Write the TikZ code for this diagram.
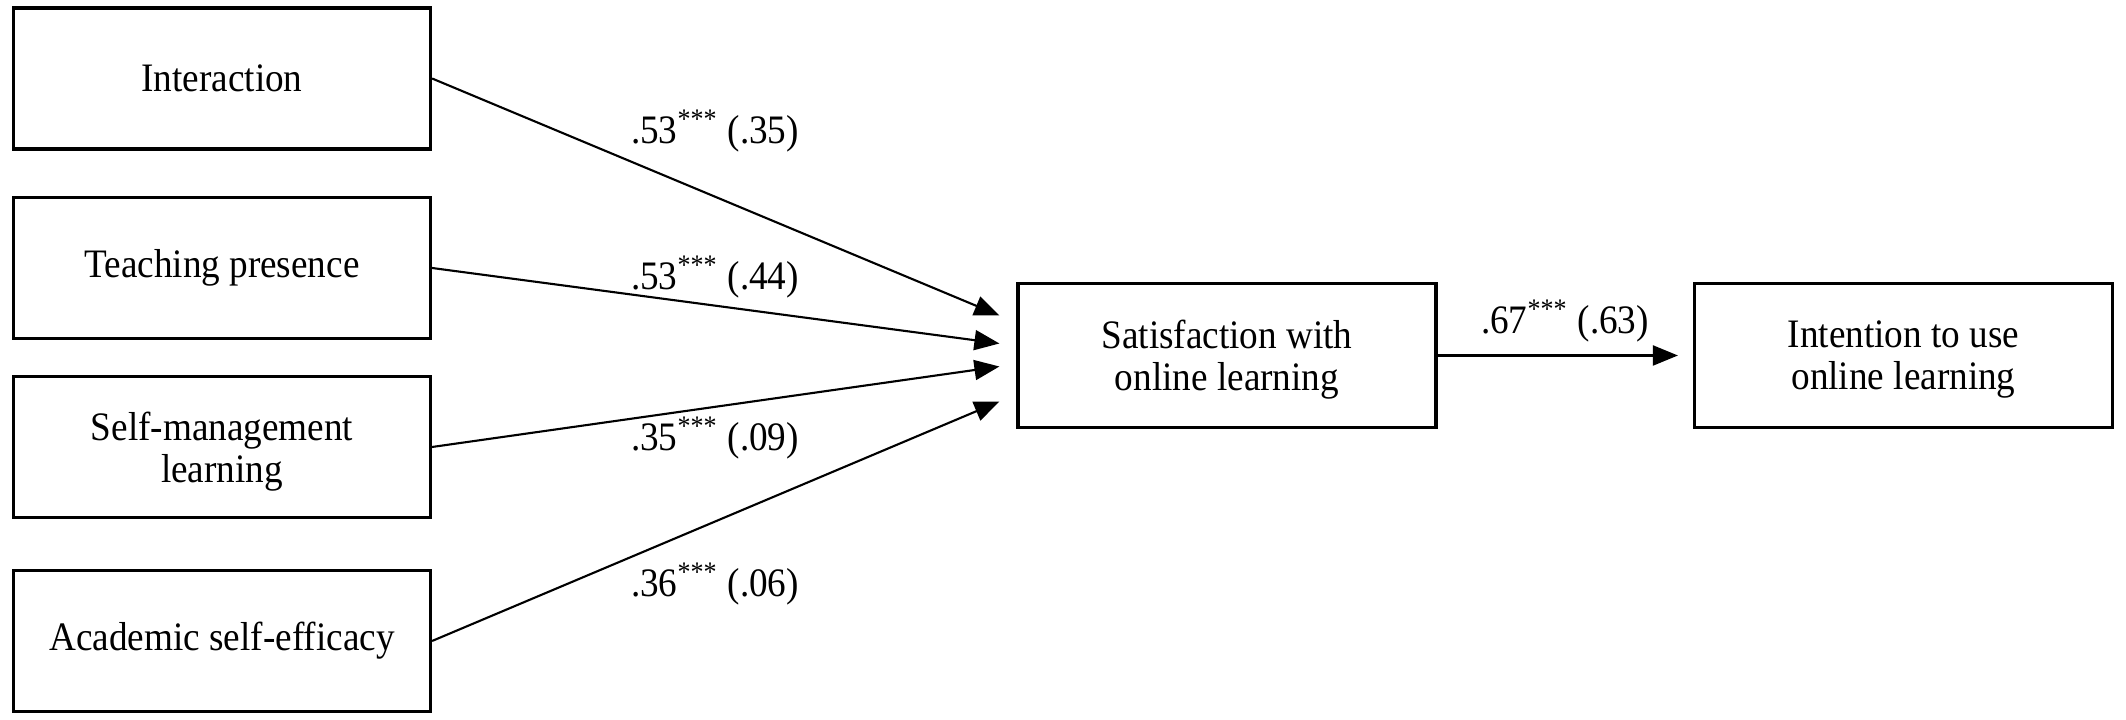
\documentclass[tikz,border=0pt]{standalone}
\usepackage{fontspec}
\setmainfont[FakeStretch=0.92]{Liberation Serif}
\usetikzlibrary{arrows.meta}

\begin{document}
\begin{tikzpicture}[
    font=\fontsize{11.5}{12}\selectfont,
    factor/.style={draw, line width=0.9pt, rectangle, minimum width=4.17cm, minimum height=1.41cm, align=center, inner sep=0pt},
    outcome/.style={draw, line width=0.9pt, rectangle, minimum width=4.18cm, minimum height=1.44cm, align=center, inner sep=0pt, text depth=0pt},
    coef/.style={inner sep=1pt},
    arrow/.style={-{Triangle[length=2.5mm, width=2mm]}, line width=0.6pt, color=black}
]
    \useasboundingbox (0, 0) rectangle (21.26, -7.2);

    % Predictors
    \node (inter) at (2.22, -0.785) [factor] {Interaction};
    \node (teach) at (2.22, -2.68) [factor] {Teaching presence};
    \node (selfman) at (2.22, -4.47) [factor, text depth=0pt] {Self-management\\learning};
    \node (acad) at (2.22, -6.41) [factor] {Academic self-efficacy};

    % Satisfaction
    \node (satis) at (12.27, -3.555) [outcome] {Satisfaction with\\online learning};

    % Intention
    \node (intent) at (19.035, -3.555) [outcome] {Intention to use\\online learning};

    % Arrow ends
    \coordinate (in1) at ([xshift=-1.7mm, yshift=4mm]satis.west);
    \coordinate (in2) at ([xshift=-1.7mm, yshift=1.2mm]satis.west);
    \coordinate (in3) at ([xshift=-1.7mm, yshift=-1.1mm]satis.west);
    \coordinate (in4) at ([xshift=-1.7mm, yshift=-4.6mm]satis.west);
    \coordinate (out) at ([xshift=-1.5mm]intent.west);

    % Arrows
    \draw[arrow] (inter.east) -- (in1);
    \draw[arrow] (teach.east) -- (in2);
    \draw[arrow] (selfman.east) -- (in3);
    \draw[arrow] (acad.east) -- (in4);
    \draw[arrow] (satis.east |- out) -- (out);

    % Coefficients
    \node (c1) at (7.15, -1.31) [coef] {.53\textsuperscript{***} (.35)};
    \node (c2) at (7.15, -2.77) [coef] {.53\textsuperscript{***} (.44)};
    \node (c3) at (7.15, -4.38) [coef] {.35\textsuperscript{***} (.09)};
    \node (c4) at (7.15, -5.84) [coef] {.36\textsuperscript{***} (.06)};
    \node (c5) at (15.65, -3.21) [coef] {.67\textsuperscript{***} (.63)};
\end{tikzpicture}
\end{document}
